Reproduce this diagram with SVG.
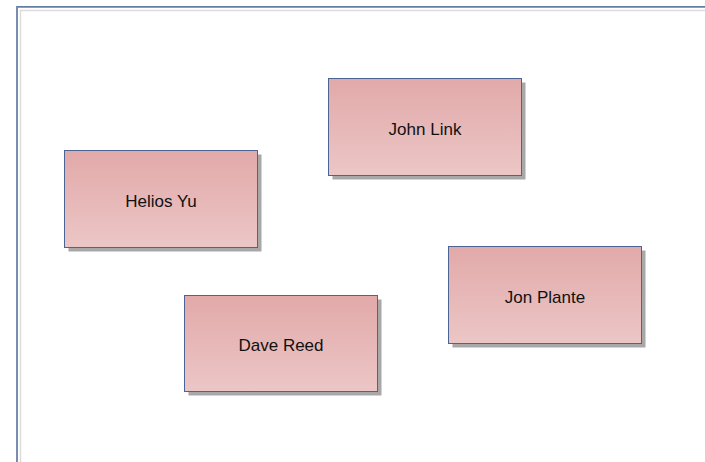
<svg xmlns="http://www.w3.org/2000/svg" width="705" height="462" viewBox="0 0 705 462">
<style>
.node rect.box{fill:url(#g);stroke:#4a6496;stroke-width:1}
.node rect.sh{fill:#999;opacity:0.85}
.node text{font-family:"Liberation Sans","Open Sans",sans-serif;font-size:17px;fill:#111;text-anchor:middle}
</style>
<defs>
<linearGradient id="g" x1="0" y1="0" x2="0" y2="1">
<stop offset="0" stop-color="#e2a9a9"/>
<stop offset="1" stop-color="#ecc6c6"/>
</linearGradient>
<filter id="b" x="-5%" y="-5%" width="110%" height="110%"><feGaussianBlur stdDeviation="0.7"/></filter>
</defs>
<rect width="705" height="462" fill="#fff"/>
<path d="M17 462V7H705" fill="none" stroke="#8a9fbe" stroke-width="2"/>
<path d="M17 462V6.5H705" fill="none" stroke="#5a739b" stroke-width="0.8"/>
<path d="M20.5 462V10.5H705" fill="none" stroke="#dcdcdc" stroke-width="1.5"/>
<g id="connectors"></g>
<g id="john-link" class="node"><rect class="sh" x="332.5" y="82.5" width="193" height="97" filter="url(#b)"/><rect class="box" x="328.5" y="78.5" width="193" height="97"/><text x="425" y="135">John Link</text></g>
<g id="helios-yu" class="node"><rect class="sh" x="68.5" y="154.5" width="193" height="97" filter="url(#b)"/><rect class="box" x="64.5" y="150.5" width="193" height="97"/><text x="161" y="206.5">Helios Yu</text></g>
<g id="jon-plante" class="node"><rect class="sh" x="452.5" y="250.5" width="193" height="97" filter="url(#b)"/><rect class="box" x="448.5" y="246.5" width="193" height="97"/><text x="545" y="303">Jon Plante</text></g>
<g id="dave-reed" class="node"><rect class="sh" x="188.5" y="299.5" width="193" height="96" filter="url(#b)"/><rect class="box" x="184.5" y="295.5" width="193" height="96"/><text x="281" y="350.5">Dave Reed</text></g>
</svg>
